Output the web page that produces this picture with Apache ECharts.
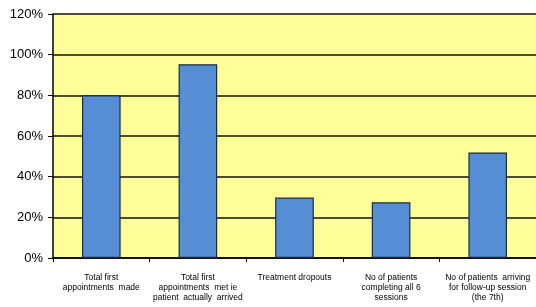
<!DOCTYPE html>
<html>
<head>
<meta charset="utf-8">
<script src="https://cdn.jsdelivr.net/npm/echarts@6/dist/echarts.min.js"></script>
<style>
  html, body { margin: 0; padding: 0; background: #fff; }
  #chart { width: 536px; height: 307px; }
</style>
</head>
<body>
<div id="chart"></div>
<script>
// categories (x axis)
var categories = [
    'Total first\nappointments  made',
    'Total first\nappointments  met ie\npatient  actually  arrived',
    'Treatment dropouts',
    'No of patients\ncompleting all 6\nsessions',
    'No of patients  arriving\nfor follow-up session\n(the 7th)'
];
// percentages
var values = [80, 95.3, 29.7, 27.4, 51.9];
// y axis ticks
var yTicks = [0, 20, 40, 60, 80, 100, 120];

var chart = echarts.init(document.getElementById('chart'));

var option = {
    animation: false,
    grid: {
        left: 53,
        top: 14,
        right: -2,
        bottom: 49,
        show: true,
        backgroundColor: '#ffff99',
        borderWidth: 0
    },
    xAxis: {
        type: 'category',
        data: categories,
        axisLine: { lineStyle: { color: '#000', width: 1.5 } },
        axisTick: { show: true, length: 4, lineStyle: { color: '#000' } },
        axisLabel: {
            interval: 0,
            margin: 15,
            fontFamily: 'Liberation Sans',
            fontSize: 8.5,
            lineHeight: 10,
            color: '#000'
        }
    },
    yAxis: {
        type: 'value',
        min: yTicks[0],
        max: yTicks[yTicks.length - 1],
        interval: 20,
        axisLine: { show: true, lineStyle: { color: '#000', width: 1.5 } },
        axisTick: { show: true, length: 5, lineStyle: { color: '#000' } },
        axisLabel: {
            formatter: '{value}%',
            margin: 10,
            fontFamily: 'Liberation Sans',
            fontSize: 13,
            color: '#000'
        },
        splitLine: { show: true, lineStyle: { color: '#111', width: 1.5 } }
    },
    series: [{
        type: 'bar',
        data: values,
        barWidth: '40%',
        itemStyle: {
            color: '#558ed5',
            borderColor: '#1c2a40',
            borderWidth: 1.2
        }
    }]
};

chart.setOption(option);
</script>
</body>
</html>
